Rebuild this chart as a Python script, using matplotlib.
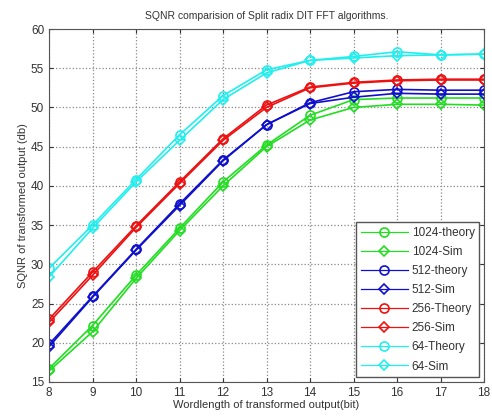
import matplotlib
matplotlib.use("Agg")
import matplotlib.pyplot as plt

# Wordlength values on the x axis
WORDLENGTH = [8, 9, 10, 11, 12, 13, 14, 15, 16, 17, 18]

# SQNR values (db)
SQNR_1024_THEORY = [16.7, 22.2, 28.6, 34.6, 40.5, 45.2, 49.0, 51.0, 51.2, 51.2, 51.2]
SQNR_1024_SIM = [16.4, 21.4, 28.2, 34.3, 40.0, 45.0, 48.4, 50.0, 50.4, 50.4, 50.3]
SQNR_512_THEORY = [19.8, 25.9, 31.9, 37.7, 43.3, 47.8, 50.6, 52.0, 52.3, 52.2, 52.2]
SQNR_512_SIM = [19.5, 25.8, 31.8, 37.5, 43.2, 47.8, 50.5, 51.3, 51.8, 51.7, 51.7]
SQNR_256_THEORY = [23.0, 29.0, 34.9, 40.5, 46.0, 50.3, 52.6, 53.2, 53.5, 53.6, 53.6]
SQNR_256_SIM = [22.6, 28.6, 34.7, 40.3, 45.8, 50.0, 52.5, 53.1, 53.4, 53.5, 53.5]
SQNR_64_THEORY = [29.5, 35.0, 40.8, 46.5, 51.5, 54.8, 56.0, 56.5, 57.1, 56.7, 56.8]
SQNR_64_SIM = [28.4, 34.6, 40.5, 45.8, 51.0, 54.4, 56.0, 56.3, 56.6, 56.7, 56.8]

LABELS = ["1024-theory", "1024-Sim", "512-theory", "512-Sim",
          "256-Theory", "256-Sim", "64-Theory", "64-Sim"]

GREEN = "#22dd22"
BLUE = "#1010cc"
RED = "#ee1111"
CYAN = "#22eeee"

plt.rcParams["font.family"] = ["Liberation Sans", "DejaVu Sans"]

fig = plt.figure(figsize=(4.92, 4.20), dpi=100)
ax = fig.add_axes([49 / 492, 1 - 382 / 420, (484 - 49) / 492, (382 - 29) / 420])

series = [
    (SQNR_1024_THEORY, GREEN, "o"),
    (SQNR_1024_SIM, GREEN, "D"),
    (SQNR_512_THEORY, BLUE, "o"),
    (SQNR_512_SIM, BLUE, "D"),
    (SQNR_256_THEORY, RED, "o"),
    (SQNR_256_SIM, RED, "D"),
    (SQNR_64_THEORY, CYAN, "o"),
    (SQNR_64_SIM, CYAN, "D"),
]

for (values, color, marker), label in zip(series, LABELS):
    ax.plot(WORDLENGTH, values, color=color, marker=marker,
            markersize=6.5 if marker == "o" else 5.5,
            markerfacecolor="none", markeredgewidth=1.2, linewidth=1.2,
            label=label)

ax.set_xlim(8, 18)
ax.set_ylim(15, 60)
ax.set_xticks(WORDLENGTH)
ax.set_yticks(range(15, 61, 5))
ax.grid(True, linestyle=":", color="#888888", linewidth=0.9)
ax.tick_params(direction="in", labelsize=8.5, colors="#333333", length=3,
               top=True, right=True)
for spine in ax.spines.values():
    spine.set_color("#555555")

ax.set_title("SQNR comparision of Split radix DIT FFT algorithms.",
             fontsize=7.5, color="#333333", pad=7)
ax.set_xlabel("Wordlength of transformed output(bit)", fontsize=8,
              color="#333333", labelpad=1)
ax.set_ylabel("SQNR of transformed output (db)", fontsize=8,
              color="#333333", labelpad=2)

legend = ax.legend(loc="lower right", fontsize=8.5, handlelength=4.0,
                   numpoints=1, fancybox=False, framealpha=1,
                   edgecolor="#555555", borderaxespad=0.4,
                   labelspacing=0.6, handletextpad=0.3)
for text in legend.get_texts():
    text.set_color("#333333")
for line in legend.get_lines():
    line.set_linewidth(0.9)

fig.savefig("out.png", dpi=100)
